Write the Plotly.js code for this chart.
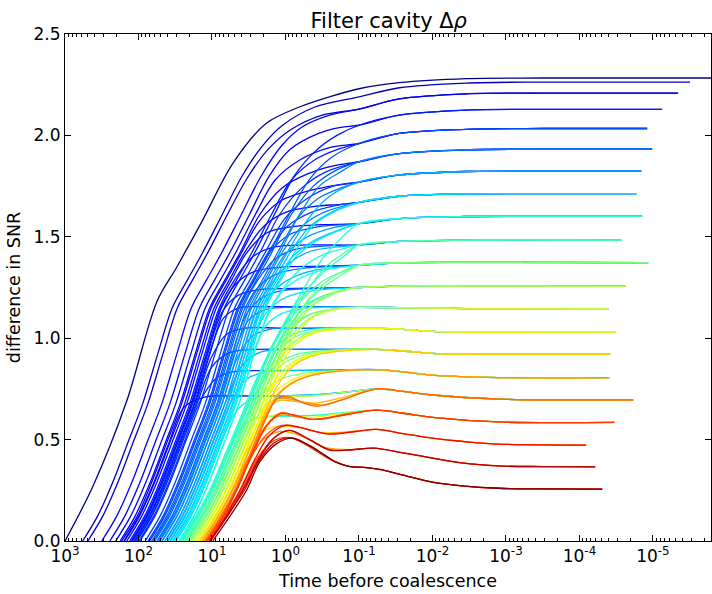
<!DOCTYPE html>
<html><head><meta charset="utf-8">
<script src="https://cdn.plot.ly/plotly-3.0.1.min.js"></script>
<style>body{margin:0;background:#fff}</style>
</head><body>
<div id="chart" style="width:712px;height:594px"></div>
<script>
// x values are log10(time before coalescence); y = difference in SNR
// tails: shared late-time path of each plateau group (flat pairs u,v)
const tail0 = [-1.0,2.23, -1.55,2.26, -2.46,2.28, -3.5,2.283, -5.95,2.283];
const tail1 = [-1.0,2.19, -1.55,2.235, -2.46,2.258, -3.5,2.263, -5.505,2.263];
const tail2 = [-1.0,2.13, -1.55,2.18, -2.46,2.205, -3.5,2.208, -5.342,2.208];
const tail3 = [-1.0,2.05, -1.55,2.10, -2.46,2.125, -3.5,2.128, -5.125,2.128];
const tail4 = [-1.0,1.96, -1.55,2.01, -2.46,2.03, -3.5,2.034, -4.921,2.034];
const tail5 = [-1.0,1.87, -1.55,1.91, -2.46,1.929, -3.5,1.932, -4.989,1.932];
const tail6 = [-1.0,1.77, -1.55,1.805, -2.46,1.822, -3.5,1.824, -4.84,1.824];
const tail7 = [-1.0,1.67, -1.55,1.70, -2.46,1.712, -3.5,1.713, -4.772,1.713];
const tail8 = [-1.0,1.565, -1.55,1.59, -2.46,1.60, -3.5,1.601, -4.853,1.601];
const tail9 = [-1.0,1.46, -1.55,1.477, -2.46,1.484, -4.568,1.484];
const tail10 = [-1.0,1.36, -1.55,1.372, -2.46,1.374, -4.935,1.373];
const tail11 = [-1.0,1.25, -1.55,1.257, -2.46,1.257, -4.622,1.256];
const tail12 = [-1.0,1.152, -1.55,1.151, -2.46,1.146, -4.391,1.144];
const tail13 = [-1.24,1.05, -1.6,1.044, -2.0,1.034, -2.9,1.03, -4.486,1.031];
const tail14 = [-1.24,0.945, -1.6,0.937, -2.0,0.925, -2.9,0.92, -4.418,0.92];
const tail15 = [-1.24,0.845, -1.6,0.834, -2.0,0.818, -2.9,0.806, -4.405,0.806];
const tail16 = [-1.24,0.75, -1.6,0.738, -2.0,0.72, -2.9,0.70, -4.731,0.696];
const tail17 = [-1.24,0.645, -1.6,0.63, -2.0,0.61, -2.9,0.587, -4.473,0.585];
const tail18 = [-1.24,0.55, -1.6,0.53, -2.0,0.507, -2.5,0.488, -2.9,0.478, -4.092,0.473];
const tail19 = [-1.2,0.458, -1.6,0.435, -2.0,0.409, -2.4,0.385, -2.9,0.37, -3.5,0.367, -4.215,0.366];
const tail20 = [-1.1,0.362, -1.3,0.352, -1.6,0.325, -2.0,0.29, -2.4,0.272, -2.9,0.26, -3.4,0.257, -4.31,0.256];

// early (rising) parts: [colour value, flat pairs u,v]
const rise0 = [[0.00,[3.00,0,2.62,0.27,2.16,0.69,1.75,1.18,1.48,1.35,1.13,1.58,0.72,1.86,0.26,2.06,-0.19,2.14,-0.60,2.19]]];
const rise1 = [[0.05,[2.76,0,2.56,0.12,2.35,0.29,2.15,0.48,1.94,0.68,1.74,0.92,1.54,1.15,1.33,1.29,1.13,1.42,0.86,1.61,0.59,1.80,0.31,1.95,0.04,2.05,-0.4,2.14]]];
const rise2 = [
 [0.10,[2.50,0,2.30,0.12,2.09,0.29,1.89,0.48,1.68,0.68,1.48,0.92,1.28,1.15,1.07,1.29,0.87,1.42,0.60,1.61,0.33,1.80,0.05,1.95,-0.22,2.04,-0.6,2.10]],
 [0.06,[2.69,0,2.49,0.12,2.28,0.29,2.08,0.48,1.87,0.68,1.67,0.92,1.47,1.15,1.26,1.29,1.06,1.42,0.79,1.61,0.52,1.79,0.24,1.93,-0.08,2.03,-0.5,2.10]]];
const rise3 = [
 [0.15,[2.05,0,1.85,0.12,1.64,0.29,1.44,0.48,1.23,0.68,1.03,0.92,0.83,1.15,0.62,1.29,0.42,1.42,0.15,1.61,-0.12,1.80,-0.40,1.92,-0.70,2.0]],
 [0.10,[2.39,0,2.19,0.12,1.98,0.29,1.78,0.48,1.57,0.68,1.37,0.92,1.17,1.15,0.96,1.29,0.76,1.42,0.49,1.61,0.22,1.80,-0.06,1.93,-0.45,2.01,-0.75,2.04]]];
const rise4 = [
 [0.20,[1.85,0,1.65,0.12,1.44,0.29,1.24,0.48,1.03,0.68,0.83,0.92,0.63,1.15,0.42,1.29,0.22,1.42,-0.05,1.61,-0.32,1.78,-0.62,1.89]],
 [0.11,[2.31,0,2.11,0.12,1.90,0.29,1.70,0.48,1.49,0.68,1.29,0.92,1.09,1.15,0.88,1.29,0.68,1.42,0.41,1.61,0.14,1.78,-0.2,1.88,-0.6,1.94]],
 [0.15,[2.09,0,1.89,0.12,1.68,0.29,1.48,0.48,1.27,0.68,1.07,0.92,0.87,1.15,0.66,1.29,0.46,1.42,0.19,1.61,-0.08,1.78,-0.4,1.88,-0.7,1.93]]];
const rise5 = [
 [0.25,[1.71,0,1.51,0.12,1.30,0.29,1.10,0.48,0.89,0.68,0.69,0.92,0.49,1.15,0.28,1.29,0.08,1.42,-0.19,1.61,-0.46,1.75,-0.75,1.82]],
 [0.12,[2.25,0,2.05,0.12,1.84,0.29,1.64,0.48,1.43,0.68,1.23,0.92,1.03,1.15,0.82,1.29,0.62,1.42,0.35,1.61,0.05,1.74,-0.3,1.81,-0.65,1.85]],
 [0.17,[1.98,0,1.78,0.12,1.57,0.29,1.37,0.48,1.16,0.68,0.96,0.92,0.76,1.15,0.55,1.29,0.35,1.42,0.08,1.61,-0.22,1.74,-0.55,1.82]],
 [0.21,[1.82,0,1.62,0.12,1.41,0.29,1.21,0.48,1.00,0.68,0.80,0.92,0.60,1.15,0.39,1.29,0.19,1.42,-0.08,1.61,-0.38,1.75,-0.7,1.83]]];
const rise6 = [
 [0.30,[1.61,0,1.41,0.12,1.20,0.29,1.00,0.48,0.79,0.68,0.59,0.92,0.39,1.15,0.18,1.29,-0.02,1.42,-0.29,1.58,-0.6,1.70]],
 [0.12,[2.23,0,2.02,0.12,1.82,0.29,1.62,0.48,1.41,0.68,1.21,0.92,1.01,1.15,0.80,1.29,0.60,1.42,0.35,1.58,0.05,1.68,-0.35,1.73,-0.7,1.755]],
 [0.18,[1.91,0,1.71,0.12,1.50,0.29,1.30,0.48,1.09,0.68,0.89,0.92,0.69,1.15,0.48,1.29,0.28,1.42,0.01,1.59,-0.3,1.69,-0.65,1.75]],
 [0.24,[1.74,0,1.54,0.12,1.33,0.29,1.13,0.48,0.92,0.68,0.72,0.92,0.52,1.15,0.31,1.29,0.11,1.42,-0.16,1.59,-0.45,1.69,-0.75,1.74]]];
const rise7 = [
 [0.35,[1.51,0,1.31,0.12,1.10,0.29,0.90,0.48,0.69,0.68,0.49,0.92,0.29,1.15,0.08,1.29,-0.12,1.42,-0.39,1.56,-0.7,1.63]],
 [0.13,[2.19,0,1.99,0.12,1.78,0.29,1.58,0.48,1.37,0.68,1.17,0.92,0.97,1.15,0.76,1.29,0.56,1.42,0.3,1.55,0.0,1.62,-0.4,1.65,-0.75,1.66]],
 [0.19,[1.87,0,1.67,0.12,1.46,0.29,1.26,0.48,1.05,0.68,0.85,0.92,0.65,1.15,0.44,1.29,0.24,1.42,-0.02,1.55,-0.35,1.62,-0.7,1.655]],
 [0.26,[1.68,0,1.48,0.12,1.27,0.29,1.07,0.48,0.86,0.68,0.66,0.92,0.46,1.15,0.25,1.29,0.05,1.42,-0.22,1.55,-0.52,1.62]],
 [0.31,[1.57,0,1.37,0.12,1.16,0.29,0.96,0.48,0.75,0.68,0.55,0.92,0.35,1.15,0.14,1.29,-0.06,1.42,-0.33,1.55,-0.65,1.625]]];
const rise8 = [
 [0.40,[1.42,0,1.22,0.11,1.01,0.25,0.81,0.42,0.60,0.60,0.40,0.78,0.20,0.95,-0.01,1.09,-0.21,1.22,-0.48,1.38,-0.75,1.49]],
 [0.13,[2.16,0,1.96,0.12,1.75,0.29,1.55,0.48,1.34,0.68,1.14,0.92,0.94,1.15,0.73,1.29,0.53,1.42,0.25,1.52,-0.1,1.55,-0.5,1.56]],
 [0.20,[1.85,0,1.65,0.12,1.44,0.29,1.24,0.48,1.03,0.68,0.83,0.92,0.63,1.15,0.42,1.29,0.22,1.42,-0.05,1.51,-0.45,1.55]],
 [0.28,[1.64,0,1.44,0.12,1.23,0.29,1.03,0.48,0.82,0.68,0.62,0.92,0.42,1.15,0.21,1.29,0.01,1.41,-0.3,1.50,-0.65,1.545]],
 [0.33,[1.54,0,1.34,0.12,1.13,0.29,0.93,0.48,0.72,0.68,0.52,0.92,0.32,1.15,0.11,1.29,-0.09,1.40,-0.38,1.48,-0.7,1.53]],
 [0.35,[1.49,0,1.29,0.12,1.08,0.29,0.88,0.48,0.67,0.68,0.47,0.92,0.27,1.15,0.06,1.29,-0.14,1.40,-0.42,1.48,-0.72,1.53]]];
const rise9 = [
 [0.45,[1.36,0,1.16,0.11,0.95,0.25,0.75,0.42,0.54,0.60,0.34,0.78,0.14,0.95,-0.07,1.09,-0.27,1.22,-0.54,1.35,-0.8,1.42]],
 [0.14,[2.12,0,1.92,0.12,1.71,0.29,1.51,0.48,1.30,0.68,1.10,0.92,0.90,1.15,0.69,1.29,0.45,1.40,0.15,1.45,-0.3,1.46]],
 [0.21,[1.80,0,1.60,0.12,1.39,0.29,1.19,0.48,0.98,0.68,0.78,0.92,0.58,1.15,0.37,1.29,0.14,1.39,-0.15,1.44,-0.55,1.455]],
 [0.30,[1.60,0,1.40,0.12,1.19,0.29,0.99,0.48,0.78,0.68,0.58,0.92,0.38,1.15,0.17,1.28,-0.05,1.37,-0.35,1.43,-0.7,1.45]],
 [0.38,[1.45,0,1.25,0.12,1.04,0.29,0.84,0.48,0.63,0.68,0.43,0.92,0.23,1.13,0.02,1.25,-0.2,1.34,-0.5,1.41,-0.78,1.44]],
 [0.40,[1.42,0,1.22,0.11,1.01,0.25,0.81,0.42,0.60,0.60,0.40,0.78,0.20,0.95,-0.01,1.09,-0.21,1.2,-0.5,1.32,-0.78,1.40]]];
const rise10 = [
 [0.50,[1.30,0,1.10,0.11,0.89,0.25,0.69,0.42,0.48,0.60,0.28,0.78,0.08,0.95,-0.13,1.09,-0.33,1.2,-0.6,1.29,-0.8,1.33]],
 [0.14,[2.10,0,1.90,0.12,1.69,0.29,1.49,0.48,1.28,0.68,1.08,0.92,0.88,1.15,0.67,1.27,0.42,1.33,0.05,1.35,-0.5,1.355]],
 [0.22,[1.78,0,1.58,0.12,1.37,0.29,1.17,0.48,0.96,0.68,0.76,0.92,0.56,1.14,0.35,1.26,0.1,1.32,-0.25,1.345,-0.65,1.355]],
 [0.32,[1.57,0,1.37,0.12,1.16,0.29,0.96,0.48,0.75,0.68,0.55,0.92,0.35,1.13,0.14,1.24,-0.1,1.3,-0.4,1.335,-0.75,1.35]],
 [0.38,[1.45,0,1.25,0.12,1.04,0.29,0.84,0.48,0.63,0.68,0.43,0.92,0.23,1.12,0.02,1.24,-0.22,1.3,-0.5,1.335,-0.78,1.35]],
 [0.42,[1.40,0,1.20,0.11,0.99,0.25,0.79,0.42,0.58,0.60,0.38,0.78,0.18,0.95,-0.03,1.09,-0.23,1.19,-0.5,1.28,-0.78,1.33]],
 [0.46,[1.34,0,1.14,0.11,0.93,0.25,0.73,0.42,0.52,0.60,0.32,0.78,0.12,0.95,-0.09,1.08,-0.3,1.18,-0.55,1.26,-0.8,1.32]]];
const rise11 = [
 [0.55,[1.26,0,1.06,0.11,0.85,0.25,0.65,0.42,0.44,0.60,0.24,0.78,0.04,0.95,-0.17,1.08,-0.37,1.16,-0.62,1.22,-0.82,1.24]],
 [0.15,[2.08,0,1.88,0.12,1.67,0.29,1.47,0.48,1.26,0.68,1.06,0.92,0.86,1.13,0.65,1.21,0.35,1.24,-0.1,1.245,-0.6,1.248]],
 [0.23,[1.75,0,1.55,0.12,1.34,0.29,1.14,0.48,0.93,0.68,0.73,0.92,0.53,1.12,0.32,1.2,0.05,1.235,-0.4,1.245]],
 [0.34,[1.53,0,1.33,0.12,1.12,0.29,0.92,0.48,0.71,0.68,0.51,0.92,0.31,1.1,0.1,1.18,-0.15,1.22,-0.5,1.24]],
 [0.42,[1.40,0,1.20,0.11,0.99,0.25,0.79,0.42,0.58,0.60,0.38,0.78,0.18,0.95,-0.03,1.08,-0.25,1.16,-0.52,1.21,-0.8,1.24]],
 [0.46,[1.34,0,1.14,0.11,0.93,0.25,0.73,0.42,0.52,0.60,0.32,0.78,0.12,0.95,-0.09,1.08,-0.29,1.16,-0.55,1.21,-0.8,1.24]],
 [0.50,[1.30,0,1.10,0.11,0.89,0.25,0.69,0.42,0.48,0.60,0.28,0.78,0.08,0.95,-0.13,1.08,-0.35,1.16,-0.6,1.21,-0.82,1.24]]];
const rise12 = [
 [0.60,[1.22,0,1.02,0.11,0.81,0.25,0.61,0.42,0.40,0.60,0.20,0.78,0.0,0.94,-0.21,1.05,-0.41,1.11,-0.65,1.14,-0.85,1.15]],
 [0.15,[2.06,0,1.86,0.12,1.65,0.29,1.45,0.48,1.24,0.68,1.04,0.92,0.84,1.1,0.63,1.15,0.3,1.155,-0.2,1.155,-0.7,1.153]],
 [0.24,[1.72,0,1.52,0.12,1.31,0.29,1.11,0.48,0.90,0.68,0.70,0.92,0.50,1.09,0.28,1.14,0.0,1.152,-0.5,1.155]],
 [0.36,[1.49,0,1.29,0.12,1.08,0.29,0.88,0.48,0.67,0.68,0.47,0.9,0.27,1.06,0.06,1.12,-0.2,1.145,-0.6,1.152]],
 [0.44,[1.37,0,1.17,0.11,0.96,0.25,0.76,0.42,0.55,0.6,0.35,0.78,0.15,0.94,-0.06,1.05,-0.28,1.11,-0.58,1.14,-0.85,1.15]],
 [0.50,[1.30,0,1.10,0.11,0.89,0.25,0.69,0.42,0.48,0.60,0.28,0.78,0.08,0.94,-0.13,1.06,-0.35,1.12,-0.65,1.145]],
 [0.55,[1.26,0,1.06,0.11,0.85,0.25,0.65,0.42,0.44,0.60,0.24,0.78,0.04,0.94,-0.17,1.05,-0.38,1.11,-0.62,1.14,-0.85,1.15]]];
const rise13 = [
 [0.65,[1.18,0,0.98,0.11,0.77,0.25,0.57,0.42,0.36,0.60,0.16,0.78,-0.04,0.93,-0.25,1.0,-0.5,1.035,-0.85,1.045]],
 [0.16,[2.035,0,1.83,0.12,1.625,0.29,1.425,0.48,1.215,0.68,1.015,0.9,0.8,1.02,0.55,1.05,0.1,1.05,-0.5,1.048]],
 [0.26,[1.68,0,1.48,0.12,1.27,0.29,1.07,0.48,0.86,0.68,0.66,0.9,0.45,1.01,0.2,1.045,-0.3,1.05,-0.8,1.05]],
 [0.40,[1.44,0,1.24,0.11,1.03,0.25,0.83,0.42,0.62,0.60,0.42,0.78,0.22,0.92,0.0,1.0,-0.3,1.04,-0.8,1.05]],
 [0.48,[1.33,0,1.13,0.11,0.92,0.25,0.72,0.42,0.51,0.6,0.31,0.78,0.11,0.92,-0.1,1.0,-0.38,1.035,-0.85,1.05]],
 [0.55,[1.26,0,1.06,0.11,0.85,0.25,0.65,0.42,0.44,0.60,0.24,0.78,0.04,0.92,-0.18,1.0,-0.45,1.04,-0.85,1.05]],
 [0.60,[1.22,0,1.02,0.11,0.81,0.25,0.61,0.42,0.40,0.60,0.20,0.78,0.0,0.93,-0.22,1.0,-0.48,1.035,-0.85,1.045]]];
const rise14 = [
 [0.70,[1.14,0,0.94,0.11,0.73,0.25,0.53,0.42,0.32,0.60,0.12,0.76,-0.1,0.86,-0.35,0.91,-0.7,0.935]],
 [0.16,[2.02,0,1.82,0.12,1.61,0.29,1.41,0.48,1.20,0.68,1.0,0.86,0.75,0.93,0.4,0.945,-0.2,0.945,-0.8,0.945]],
 [0.28,[1.64,0,1.44,0.12,1.23,0.29,1.03,0.48,0.82,0.68,0.6,0.86,0.35,0.93,0.0,0.945,-0.6,0.945]],
 [0.44,[1.37,0,1.17,0.11,0.96,0.25,0.76,0.42,0.55,0.60,0.35,0.76,0.12,0.87,-0.15,0.92,-0.6,0.94]],
 [0.52,[1.29,0,1.09,0.11,0.88,0.25,0.68,0.42,0.47,0.6,0.27,0.76,0.05,0.87,-0.22,0.915,-0.65,0.94]],
 [0.60,[1.22,0,1.02,0.11,0.81,0.25,0.61,0.42,0.40,0.60,0.20,0.76,-0.02,0.86,-0.3,0.915,-0.7,0.94]],
 [0.65,[1.18,0,0.98,0.11,0.77,0.25,0.57,0.42,0.36,0.60,0.16,0.76,-0.06,0.86,-0.32,0.91,-0.7,0.935]]];
const rise15 = [
 [0.75,[1.10,0,0.90,0.11,0.69,0.25,0.49,0.42,0.28,0.60,0.1,0.72,-0.1,0.78,-0.4,0.82,-0.8,0.84]],
 [0.17,[1.995,0,1.795,0.12,1.585,0.29,1.385,0.48,1.175,0.68,0.95,0.8,0.7,0.835,0.2,0.84,-0.5,0.842]],
 [0.32,[1.57,0,1.37,0.12,1.16,0.29,0.96,0.48,0.75,0.68,0.52,0.8,0.25,0.835,-0.2,0.84,-0.7,0.843]],
 [0.50,[1.30,0,1.10,0.11,0.89,0.25,0.69,0.42,0.48,0.60,0.28,0.74,0.05,0.8,-0.3,0.83,-0.75,0.84]],
 [0.66,[1.17,0,0.97,0.11,0.76,0.25,0.56,0.42,0.35,0.60,0.15,0.73,-0.07,0.79,-0.35,0.825,-0.75,0.84]],
 [0.70,[1.14,0,0.94,0.11,0.73,0.25,0.53,0.42,0.32,0.60,0.12,0.72,-0.08,0.78,-0.38,0.82,-0.78,0.84]]];
const rise16 = [
 [0.80,[1.08,0,0.88,0.11,0.67,0.25,0.47,0.42,0.27,0.60,0.12,0.7,-0.05,0.71,-0.25,0.68,-0.45,0.665,-0.8,0.7]],
 [0.12,[2.20,0,2.0,0.12,1.79,0.29,1.59,0.48,1.38,0.66,1.1,0.71,0.6,0.715,0.1,0.715,-0.4,0.72,-0.85,0.735]],
 [0.36,[1.49,0,1.29,0.12,1.08,0.29,0.88,0.48,0.67,0.64,0.45,0.7,0.1,0.715,-0.35,0.72,-0.85,0.735]],
 [0.56,[1.26,0,1.06,0.11,0.85,0.25,0.65,0.42,0.44,0.58,0.24,0.68,0.0,0.71,-0.35,0.715,-0.85,0.735]],
 [0.72,[1.13,0,0.93,0.11,0.72,0.25,0.52,0.42,0.31,0.6,0.12,0.69,-0.1,0.69,-0.4,0.68,-0.8,0.71]],
 [0.76,[1.10,0,0.90,0.11,0.69,0.25,0.49,0.42,0.29,0.6,0.12,0.7,-0.06,0.7,-0.3,0.68,-0.5,0.67,-0.8,0.7]]];
const rise17 = [
 [0.85,[1.06,0,0.86,0.11,0.65,0.26,0.45,0.43,0.25,0.57,0.06,0.63,-0.12,0.62,-0.35,0.60,-0.55,0.605,-0.85,0.625]],
 [0.40,[1.42,0,1.22,0.11,1.01,0.25,0.81,0.42,0.6,0.56,0.35,0.61,0.0,0.615,-0.4,0.62,-0.85,0.635]],
 [0.62,[1.21,0,1.01,0.11,0.80,0.25,0.60,0.42,0.39,0.56,0.18,0.62,-0.05,0.62,-0.35,0.61,-0.8,0.63]],
 [0.78,[1.10,0,0.90,0.11,0.69,0.25,0.49,0.42,0.28,0.56,0.08,0.62,-0.12,0.615,-0.4,0.6,-0.8,0.625]],
 [0.82,[1.07,0,0.87,0.11,0.66,0.26,0.46,0.43,0.26,0.57,0.07,0.63,-0.12,0.62,-0.35,0.6,-0.55,0.605,-0.85,0.625]]];
const rise18 = [
 [0.90,[1.03,0,0.83,0.11,0.62,0.25,0.42,0.4,0.22,0.52,0.0,0.57,-0.2,0.56,-0.6,0.527,-0.95,0.54]],
 [0.68,[1.17,0,0.97,0.11,0.76,0.25,0.56,0.42,0.35,0.53,0.12,0.565,-0.15,0.56,-0.5,0.535,-0.9,0.54]],
 [0.82,[1.08,0,0.88,0.11,0.67,0.25,0.47,0.41,0.27,0.52,0.05,0.57,-0.18,0.56,-0.55,0.53,-0.95,0.54]]];
const rise19 = [
 [0.95,[1.02,0,0.76,0.14,0.55,0.27,0.35,0.41,0.15,0.51,-0.06,0.545,-0.33,0.50,-0.6,0.448,-0.9,0.45]],
 [0.74,[1.13,0,0.93,0.11,0.72,0.25,0.52,0.4,0.3,0.5,0.08,0.54,-0.2,0.52,-0.55,0.46,-0.9,0.45]],
 [0.88,[1.04,0,0.8,0.13,0.58,0.26,0.38,0.4,0.18,0.5,-0.04,0.545,-0.3,0.505,-0.6,0.45,-0.9,0.45]]];
const rise20 = [
 [1.00,[0.99,0,0.76,0.12,0.53,0.25,0.35,0.39,0.12,0.48,-0.1,0.507,-0.33,0.47,-0.53,0.425,-0.68,0.39,-0.86,0.368]],
 [0.84,[1.07,0,0.84,0.12,0.6,0.26,0.4,0.4,0.18,0.49,-0.06,0.51,-0.3,0.47,-0.5,0.425,-0.68,0.39,-0.86,0.368]],
 [0.92,[1.03,0,0.8,0.12,0.56,0.25,0.37,0.39,0.15,0.485,-0.08,0.508,-0.32,0.47,-0.52,0.425,-0.68,0.39,-0.86,0.368]]];

const tails = [tail0,tail1,tail2,tail3,tail4,tail5,tail6,tail7,tail8,tail9,tail10,tail11,tail12,tail13,tail14,tail15,tail16,tail17,tail18,tail19,tail20];
const rises = [rise0,rise1,rise2,rise3,rise4,rise5,rise6,rise7,rise8,rise9,rise10,rise11,rise12,rise13,rise14,rise15,rise16,rise17,rise18,rise19,rise20];
const xTickExp = [3,2,1,0,-1,-2,-3,-4,-5];
const yTicks = [0,0.5,1.0,1.5,2.0,2.5];

function jet(t){
  const seg=(pts)=>{for(let i=1;i<pts.length;i++){if(t<=pts[i][0]){const [x0,y0]=pts[i-1],[x1,y1]=pts[i];return y0+(y1-y0)*(t-x0)/(x1-x0);}}return pts[pts.length-1][1];};
  const r=seg([[0,0],[0.35,0],[0.66,1],[0.89,1],[1,0.5]]);
  const g=seg([[0,0],[0.125,0],[0.375,1],[0.64,1],[0.91,0],[1,0]]);
  const b=seg([[0,0.5],[0.11,1],[0.34,1],[0.65,0],[1,0]]);
  return `rgb(${Math.round(r*255)},${Math.round(g*255)},${Math.round(b*255)})`;
}

const curves=[];
rises.forEach((grp,gi)=>{
  grp.forEach(([c,pts])=>{
    const all=pts.concat(tails[gi]);
    const x=[],y=[];
    for(let i=0;i<all.length;i+=2){x.push(Math.pow(10,all[i]));y.push(all[i+1]);}
    curves.push({c,gi,x,y});
  });
});
curves.sort((a,b)=>a.c-b.c || a.gi-b.gi);
const traces=curves.map(cv=>({type:'scatter',mode:'lines',x:cv.x,y:cv.y,
  line:{color:jet(cv.c),width:1.3,shape:'spline',smoothing:0.9},hoverinfo:'skip',showlegend:false}));

const minorVals=[];
for(let e=-6;e<3;e++){for(let m=2;m<=9;m++){minorVals.push(m*Math.pow(10,e));}}

const font='DejaVu Sans, sans-serif';
const layout={
  width:712,height:594,
  margin:{l:65,r:1,t:34,b:53},
  paper_bgcolor:'#fff',plot_bgcolor:'#fff',
  title:{text:'Filter cavity Δ<i>ρ</i>',font:{family:font,size:21,color:'#000'},x:0.546,xanchor:'center',y:0.966,yanchor:'middle'},
  xaxis:{type:'log',range:[3,-5.79],autorange:false,
    tickvals:xTickExp.map(e=>Math.pow(10,e)),ticktext:xTickExp.map(e=>'10<sup>'+(e<0?'-'+(-e):e)+'</sup>'),
    ticks:'inside',ticklen:6,tickwidth:1,tickcolor:'#000',
    minor:{tickvals:minorVals,ticks:'inside',ticklen:3,tickwidth:1,tickcolor:'#000',showgrid:false},
    showline:true,linecolor:'#000',linewidth:1,mirror:'ticks',showgrid:false,zeroline:false,
    tickfont:{family:font,size:17,color:'#000'},
    title:{text:'Time before coalescence',font:{family:font,size:17.5,color:'#000'},standoff:9}},
  yaxis:{range:[0,2.5],autorange:false,tickvals:yTicks,ticktext:yTicks.map(v=>v.toFixed(1)),
    ticks:'inside',ticklen:6,tickwidth:1,tickcolor:'#000',
    showline:true,linecolor:'#000',linewidth:1,mirror:'ticks',showgrid:false,zeroline:false,
    tickfont:{family:font,size:17,color:'#000'},
    title:{text:'difference in SNR',font:{family:font,size:17.5,color:'#000'},standoff:8}}
};
Plotly.newPlot('chart',traces,layout,{displayModeBar:false,staticPlot:true});
</script>
</body></html>
